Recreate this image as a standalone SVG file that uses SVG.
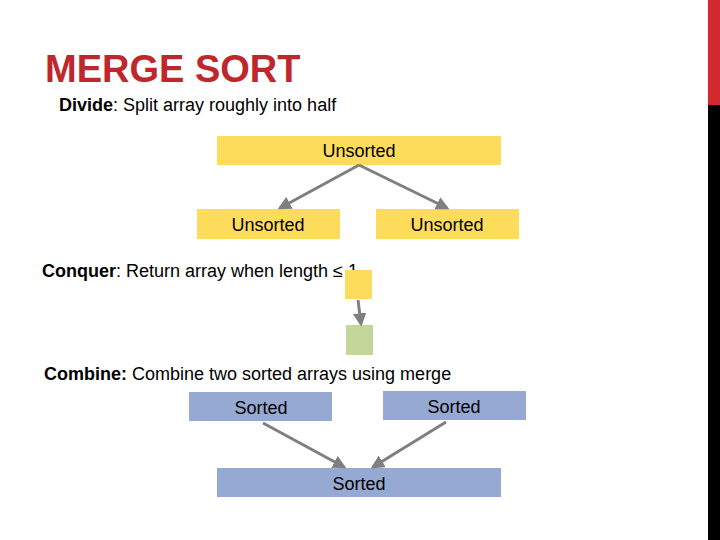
<svg xmlns="http://www.w3.org/2000/svg" width="720" height="540" viewBox="0 0 720 540">
<style>
text{font-family:"Liberation Sans",Arial,sans-serif;fill:#000}
.y{fill:#fddc5c}.g{fill:#c4d79b}.b{fill:#95a9d2}
.lbl{font-size:18px;text-anchor:middle}
.c line{stroke:#7f7f7f;stroke-width:3;marker-end:url(#ah)}
</style>
<defs><marker id="ah" viewBox="0 0 10 10" refX="8" refY="5" markerWidth="4.5" markerHeight="4.5" orient="auto"><path d="M0,0L10,5L0,10z" fill="#7f7f7f"/></marker></defs>
<rect width="720" height="540" fill="#fff"/>
<rect x="708" y="0" width="12" height="105" fill="#d3282e"/>
<rect x="708" y="105" width="12" height="435" fill="#000"/>
<text x="45" y="82" font-size="38" font-weight="bold" style="fill:#c0272d">MERGE SORT</text>
<text x="59" y="111" font-size="18"><tspan font-weight="bold">Divide</tspan>: Split array roughly into half</text>
<text x="42" y="277" font-size="18"><tspan font-weight="bold">Conquer</tspan>: Return array when length ≤ 1</text>
<text x="44" y="380" font-size="18"><tspan font-weight="bold">Combine:</tspan> Combine two sorted arrays using merge</text>
<g id="n1"><rect class="y" x="217" y="136" width="284" height="29"/><text class="lbl" x="359" y="157">Unsorted</text></g>
<g id="n2"><rect class="y" x="197" y="209" width="143" height="30"/><text class="lbl" x="268" y="231">Unsorted</text></g>
<g id="n3"><rect class="y" x="376" y="209" width="143" height="30"/><text class="lbl" x="447" y="231">Unsorted</text></g>
<g id="n4"><rect class="y" x="345" y="270" width="27" height="29"/></g>
<g id="n5"><rect class="g" x="346" y="325" width="27" height="30"/></g>
<g id="n6"><rect class="b" x="189" y="392" width="143" height="29"/><text class="lbl" x="261" y="414">Sorted</text></g>
<g id="n7"><rect class="b" x="383" y="391" width="143" height="29"/><text class="lbl" x="454" y="413">Sorted</text></g>
<g id="n8"><rect class="b" x="217" y="468" width="284" height="29"/><text class="lbl" x="359" y="490">Sorted</text></g>
<g id="connectors" class="c">
<line x1="359" y1="165" x2="280" y2="208"/>
<line x1="359" y1="165" x2="447" y2="208"/>
<line x1="358" y1="300" x2="361" y2="324"/>
<line x1="263" y1="423" x2="344" y2="467"/>
<line x1="446" y1="422" x2="373" y2="467"/>
</g>
</svg>
